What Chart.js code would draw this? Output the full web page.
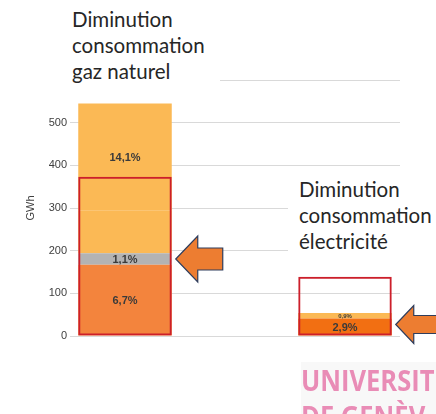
<!DOCTYPE html>
<html>
<head>
    <title>Diminution consommation</title>
    <script src="https://cdn.jsdelivr.net/npm/chart.js"></script>
    <style>
      body { margin:0; background:#fff; }
      #wrap { position:relative; width:436px; height:414px; overflow:hidden; }
      .note { position:absolute; background:#fff; font-family:Lato, "Open Sans", sans-serif; font-size:20.5px; line-height:26px; color:#262626; }
      #logo { position:absolute; left:301px; top:362px; font-family:"Open Sans", sans-serif; font-weight:700; font-size:29px; line-height:36px; color:#e98cb6; transform:scaleX(0.88); transform-origin:left top; white-space:nowrap; background:#f8f8f8; padding-right:20px; }
    </style>
</head>
<body>
  <div id="wrap">
    <canvas id="chart" width="436" height="414"></canvas>
    <div class="note" style="left:0; top:6px; width:220px; height:80px; padding-left:72px; box-sizing:border-box;">Diminution<br>consommation<br>gaz naturel</div>
    <div class="note" style="left:288px; top:176px; width:148px; height:80px; padding-left:11px; box-sizing:border-box;">Diminution<br>consommation<br>électricité</div>
    <div id="logo">UNIVERSIT<br>DE GENÈV</div>
  </div>
  <script>
    // bars: gas, (empty), electricity
    const categories = ['Gaz naturel', '', 'Électricité'];
    const baseSeg = [167, null, 41];
    const graySeg = [27, null, 0];
    const midSeg = [101, null, 13];
    const topSeg = [250, null, 0];
    const targetBox = [373, null, 139];
    const baseLabels = ['6,7%', '', '2,9%'];
    const grayLabels = ['1,1%', '', ''];
    const midLabels = ['', '', '0,9%'];
    const topLabels = ['14,1%', '', ''];
    const yTicks = [0, 100, 200, 300, 400, 500];

    const barPct = 0.85;

    const segLabels = {
      id: 'segLabels',
      afterDatasetsDraw(chart) {
        const ctx = chart.ctx;
        chart.data.datasets.forEach((ds, i) => {
          if (!ds.labels) return;
          chart.getDatasetMeta(i).data.forEach((bar, j) => {
            const txt = ds.labels[j];
            if (!txt) return;
            const small = ds.smallLabel && ds.smallLabel[j];
            ctx.save();
            ctx.font = small ? 'bold 6px "Liberation Sans", Arial' : 'bold 11px "Liberation Sans", Arial';
            ctx.fillStyle = '#3a3a3a';
            ctx.textAlign = 'center';
            ctx.textBaseline = 'middle';
            ctx.fillText(txt, bar.x, (bar.y + bar.base) / 2 + 1);
            ctx.restore();
          });
        });
      }
    };

    function drawArrow(ctx, tipX, cy, headLen, headH, shaftH, len) {
      ctx.beginPath();
      ctx.moveTo(tipX, cy);
      ctx.lineTo(tipX + headLen, cy - headH / 2);
      ctx.lineTo(tipX + headLen, cy - shaftH / 2);
      ctx.lineTo(tipX + len, cy - shaftH / 2);
      ctx.lineTo(tipX + len, cy + shaftH / 2);
      ctx.lineTo(tipX + headLen, cy + shaftH / 2);
      ctx.lineTo(tipX + headLen, cy + headH / 2);
      ctx.closePath();
      ctx.fillStyle = '#ed7d31';
      ctx.fill();
      ctx.strokeStyle = '#2f3d5c';
      ctx.lineWidth = 1.2;
      ctx.stroke();
    }

    const arrows = {
      id: 'arrows',
      afterDraw(chart) {
        const ctx = chart.ctx;
        const y = chart.scales.y;
        const box = chart.getDatasetMeta(4).data;
        const b0 = box[0], b2 = box[2];
        ctx.save();
        drawArrow(ctx, b0.x + b0.width / 2 + 4, y.getPixelForValue(baseSeg[0] + graySeg[0] / 2), 22, 46, 22, 47);
        drawArrow(ctx, b2.x + b2.width / 2 + 4, y.getPixelForValue((baseSeg[2] + midSeg[2]) / 2), 18, 38, 18, 60);
        ctx.restore();
      }
    };

    const ctx = document.getElementById('chart').getContext('2d');
    new Chart(ctx, {
      type: 'bar',
      data: {
        labels: categories,
        datasets: [
          { data: baseSeg, labels: baseLabels, backgroundColor: ['#f3843d', '#f3843d', '#f26f12'], barPercentage: barPct, categoryPercentage: 1 },
          { data: graySeg, labels: grayLabels, backgroundColor: '#b3b3b3', barPercentage: barPct, categoryPercentage: 1 },
          { data: midSeg, labels: midLabels, smallLabel: [false, false, true], backgroundColor: '#fbb955', barPercentage: barPct, categoryPercentage: 1 },
          { data: topSeg, labels: topLabels, backgroundColor: '#fbb955', barPercentage: barPct, categoryPercentage: 1 },
          { data: targetBox, stack: 'box', grouped: false, order: -1, backgroundColor: 'rgba(0,0,0,0)', borderColor: '#cc1f2b', borderWidth: 2, borderSkipped: false, barPercentage: barPct, categoryPercentage: 1 }
        ]
      },
      options: {
        responsive: false,
        animation: false,
        layout: { padding: { top: 80, right: 36, bottom: 78, left: 0 } },
        plugins: { legend: { display: false }, tooltip: { enabled: false } },
        scales: {
          x: { display: false, stacked: true },
          y: {
            stacked: true,
            min: 0,
            max: 600,
            afterFit: s => { s.width = 70; },
            afterBuildTicks: s => { s.ticks = yTicks.concat([600]).map(v => ({ value: v })); },
            border: { display: false },
            grid: { color: '#d9d9d9', lineWidth: 1, drawTicks: false },
            ticks: {
              padding: 3,
              color: '#404040',
              font: { family: '"Liberation Sans", Arial', size: 11 },
              callback: v => yTicks.includes(v) ? String(v) : ''
            },
            title: { display: true, text: 'GWh', color: '#404040', font: { family: '"Liberation Sans", Arial', size: 11 }, padding: { top: 24, bottom: 0 } }
          }
        }
      },
      plugins: [segLabels, arrows]
    });
  </script>
</body>
</html>
